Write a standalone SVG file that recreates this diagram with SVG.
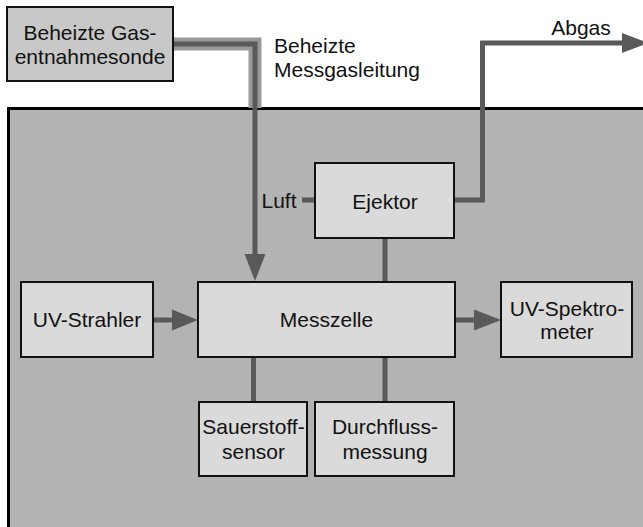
<svg xmlns="http://www.w3.org/2000/svg" width="643" height="527" viewBox="0 0 643 527">
<style>
text{font-family:"Liberation Sans",Arial,sans-serif;font-size:21px;fill:#111;}
.box{fill:#dadada;stroke:#111;stroke-width:2;}
.probe{fill:#c8c8c8;stroke:#111;stroke-width:2;}
.ln{fill:none;stroke:#595959;stroke-width:5;}
.hl{fill:none;stroke:#999;stroke-width:13;}
.ah{fill:#595959;}
</style>
<rect id="panel" x="8.5" y="108.5" width="700" height="500" fill="#b3b3b3" stroke="#000" stroke-width="3"/>
<g id="connectors">
<polyline class="hl" points="173,44 255,44 255,108"/>
<polyline class="ln" points="173,44 255,44 255,256"/>
<polygon class="ah" points="244.5,254 265.5,254 255,281"/>
<polyline class="ln" points="454,200 482.5,200 482.5,43 623,43"/>
<polygon class="ah" points="622,33 622,53 648,43"/>
<line class="ln" x1="302" y1="200" x2="315" y2="200"/>
<line class="ln" x1="385" y1="238" x2="385" y2="282"/>
<line class="ln" x1="153" y1="320" x2="174" y2="320"/>
<polygon class="ah" points="172,309.5 172,330.5 198,320"/>
<line class="ln" x1="455" y1="320" x2="476" y2="320"/>
<polygon class="ah" points="474,309.5 474,330.5 501,320"/>
<line class="ln" x1="253.5" y1="357" x2="253.5" y2="402"/>
<line class="ln" x1="385" y1="357" x2="385" y2="402"/>
</g>
<g id="probe"><rect class="probe" x="7" y="7" width="166" height="74"/>
<text x="90" y="40" text-anchor="middle">Beheizte Gas-</text>
<text x="90" y="64" text-anchor="middle">entnahmesonde</text></g>
<g id="label-line"><text x="274" y="53">Beheizte</text><text x="274" y="77">Messgasleitung</text></g>
<g id="label-abgas"><text x="581" y="35" text-anchor="middle">Abgas</text></g>
<g id="label-luft"><text x="279" y="208" text-anchor="middle">Luft</text></g>
<g id="ejektor"><rect class="box" x="315" y="163" width="139" height="75"/>
<text x="385" y="209" text-anchor="middle">Ejektor</text></g>
<g id="uvstrahler"><rect class="box" x="21" y="282" width="132" height="75"/>
<text x="87" y="327" text-anchor="middle">UV-Strahler</text></g>
<g id="messzelle"><rect class="box" x="198" y="282" width="257" height="75"/>
<text x="326.5" y="327" text-anchor="middle">Messzelle</text></g>
<g id="spektrometer"><rect class="box" x="501" y="282" width="131" height="75"/>
<text x="567" y="316" text-anchor="middle">UV-Spektro-</text>
<text x="567" y="339" text-anchor="middle">meter</text></g>
<g id="sauerstoff"><rect class="box" x="199" y="402" width="108" height="74"/>
<text x="253.5" y="434" text-anchor="middle">Sauerstoff-</text>
<text x="253.5" y="459" text-anchor="middle">sensor</text></g>
<g id="durchfluss"><rect class="box" x="315" y="402" width="139" height="74"/>
<text x="385" y="434" text-anchor="middle">Durchfluss-</text>
<text x="385" y="459" text-anchor="middle">messung</text></g>
</svg>
